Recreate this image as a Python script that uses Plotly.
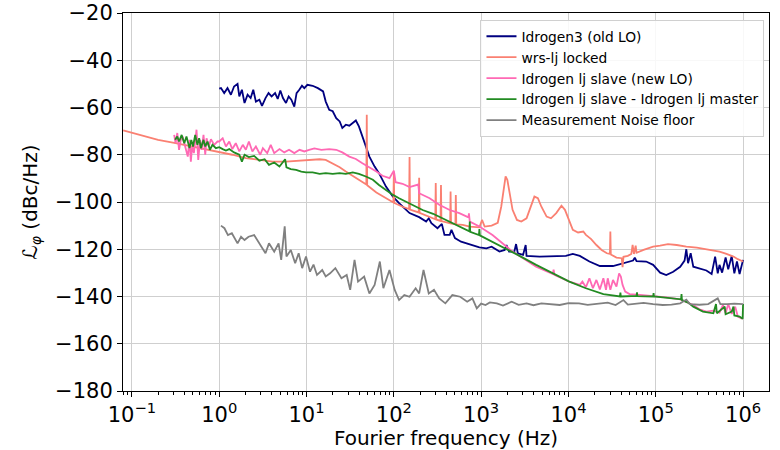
import plotly.graph_objects as go

# ---- data: (log10 frequency [Hz], phase noise [dBc/Hz]) ----
blue_pts = [
    (0.0, -52.0), (0.02, -51.8), (0.057, -53.9), (0.095, -51.8), (0.134, -54.6), (0.17, -51.1),
    (0.21, -50.0), (0.23, -55.3), (0.26, -52.5), (0.29, -58.1), (0.325, -54.6), (0.36, -56.0),
    (0.39, -52.5), (0.42, -57.5), (0.46, -56.7), (0.49, -59.3), (0.53, -56.0), (0.565, -53.9),
    (0.60, -55.3), (0.64, -53.9), (0.67, -56.4), (0.70, -52.8), (0.73, -56.0), (0.765, -58.1),
    (0.795, -55.3), (0.826, -56.7), (0.86, -59.6), (0.886, -53.9), (0.917, -52.5), (0.948, -50.8),
    (0.975, -51.8), (1.01, -50.4), (1.07, -50.8), (1.13, -51.8), (1.19, -53.2), (1.22, -57.5),
    (1.26, -61.0), (1.30, -61.6), (1.34, -64.5), (1.38, -65.9), (1.41, -68.7), (1.45, -67.3),
    (1.49, -67.7), (1.53, -66.3), (1.565, -65.5), (1.60, -68.0), (1.64, -72.3), (1.68, -77.2),
    (1.72, -80.8), (1.78, -85.0), (1.83, -87.8), (1.91, -93.5), (1.99, -97.7), (2.06, -100.5),
    (2.18, -104.7), (2.29, -106.4), (2.37, -108.3), (2.40, -106.9), (2.43, -109.0), (2.50, -111.1),
    (2.55, -109.3), (2.58, -113.9), (2.64, -113.9), (2.66, -111.8), (2.70, -115.3), (2.77, -116.8),
    (2.83, -117.5), (2.91, -118.2), (2.98, -119.2), (3.06, -119.6), (3.12, -118.9), (3.21, -121.0),
    (3.27, -120.3), (3.29, -118.2), (3.32, -121.0), (3.38, -121.0), (3.40, -117.8), (3.42, -121.7),
    (3.48, -122.4), (3.51, -118.2), (3.52, -122.8), (3.67, -123.1), (3.90, -123.1), (3.97, -122.8),
    (4.05, -122.0), (4.13, -122.8), (4.24, -125.2), (4.36, -127.1), (4.51, -127.1), (4.63, -125.9),
    (4.74, -124.8), (4.76, -123.6), (4.78, -125.0), (4.89, -125.2), (4.97, -126.6), (5.05, -129.9),
    (5.12, -130.9), (5.20, -129.5), (5.28, -127.4), (5.33, -124.8), (5.35, -120.0), (5.37, -125.9),
    (5.40, -121.7), (5.43, -127.4), (5.50, -128.0), (5.58, -129.0), (5.64, -130.5), (5.68, -123.1),
    (5.71, -130.2), (5.73, -126.6), (5.76, -129.9), (5.80, -123.5), (5.83, -128.5), (5.87, -122.8),
    (5.90, -130.2), (5.93, -125.2), (5.96, -130.5), (5.99, -125.9), (6.0, -124.5),
]

salmon_pts = [
    (-1.10, -69.7), (-0.92, -71.6), (-0.75, -73.1), (-0.72, -73.6), (-0.70, -73.7), (-0.50, -75.1),
    (-0.25, -77.0), (0.0, -78.6), (0.15, -80.0), (0.305, -81.4), (0.46, -82.2), (0.61, -82.9),
    (0.765, -82.9), (0.92, -82.5), (1.03, -82.2), (1.15, -81.9), (1.22, -82.2), (1.30, -83.6),
    (1.38, -85.3), (1.45, -87.1), (1.53, -88.9), (1.60, -90.6), (1.685, -92.6), (1.69, -63.1),
    (1.695, -92.9), (1.80, -96.0), (1.91, -98.4), (1.995, -100.2), (2.0, -87.8), (2.005, -100.4),
    (2.10, -102.0), (2.175, -103.0), (2.18, -81.0), (2.185, -103.2), (2.285, -104.4), (2.29, -89.7),
    (2.295, -104.6), (2.41, -106.5), (2.475, -107.3), (2.48, -92.0), (2.485, -107.4), (2.535, -108.0),
    (2.54, -92.8), (2.545, -108.1), (2.645, -109.0), (2.65, -95.6), (2.655, -109.1), (2.705, -109.4),
    (2.71, -97.0), (2.715, -109.5), (2.79, -109.7), (2.87, -110.4), (2.98, -110.7), (3.01, -107.6),
    (3.04, -110.4), (3.12, -110.0), (3.19, -108.8), (3.23, -102.0), (3.26, -92.8), (3.28, -89.2),
    (3.30, -90.6), (3.33, -96.3), (3.36, -103.3), (3.41, -107.6), (3.46, -108.3), (3.52, -106.9),
    (3.57, -102.0), (3.61, -97.7), (3.65, -98.4), (3.69, -102.0), (3.75, -106.2), (3.80, -106.9),
    (3.86, -104.7), (3.92, -101.6), (3.96, -103.3), (4.01, -108.3), (4.05, -111.8), (4.11, -112.9),
    (4.17, -112.5), (4.20, -113.9), (4.26, -115.7), (4.32, -118.2), (4.38, -120.3), (4.44, -121.7),
    (4.475, -122.0), (4.48, -112.5), (4.485, -122.2), (4.55, -123.5), (4.61, -123.8), (4.62, -127.6),
    (4.63, -123.2), (4.68, -122.8), (4.72, -122.0), (4.735, -118.2), (4.75, -122.0), (4.77, -118.5),
    (4.78, -121.5), (4.86, -120.3), (4.93, -119.2), (4.97, -118.9), (5.05, -118.5), (5.14, -117.8),
    (5.24, -118.2), (5.35, -118.9), (5.47, -119.3), (5.58, -120.0), (5.66, -120.6), (5.73, -121.0),
    (5.81, -122.0), (5.89, -123.1), (5.94, -124.2), (6.0, -125.2),
]

pink_pts = [
    (-0.516, -71.6), (-0.50, -75.1), (-0.48, -70.8), (-0.46, -77.9), (-0.44, -73.7), (-0.42, -72.3),
    (-0.39, -76.5), (-0.36, -80.8), (-0.34, -73.7), (-0.325, -82.9), (-0.31, -76.5), (-0.29, -79.3),
    (-0.26, -69.4), (-0.24, -82.2), (-0.22, -73.7), (-0.20, -77.9), (-0.18, -71.6), (-0.16, -80.0),
    (-0.145, -73.0), (-0.12, -76.5), (-0.095, -73.4), (-0.057, -75.8), (-0.02, -74.4), (0.0, -74.4),
    (0.04, -73.0), (0.077, -76.5), (0.115, -74.4), (0.15, -77.6), (0.19, -75.1), (0.23, -78.6),
    (0.27, -75.8), (0.305, -77.9), (0.34, -74.4), (0.38, -78.6), (0.42, -76.5), (0.47, -80.0),
    (0.50, -77.2), (0.55, -79.3), (0.59, -75.8), (0.63, -79.3), (0.69, -77.6), (0.745, -79.0),
    (0.80, -77.9), (0.86, -79.3), (0.92, -77.9), (0.975, -78.6), (1.03, -77.9), (1.09, -77.3),
    (1.17, -77.9), (1.26, -77.6), (1.34, -77.9), (1.41, -79.0), (1.49, -80.8), (1.565, -81.8),
    (1.64, -83.6), (1.72, -85.3), (1.80, -87.1), (1.87, -88.9), (1.95, -89.9), (2.0, -86.7),
    (2.02, -91.6), (2.10, -92.3), (2.18, -93.7), (2.28, -92.6), (2.29, -96.3), (2.41, -98.4),
    (2.52, -101.2), (2.64, -103.4), (2.75, -104.7), (2.855, -106.5), (2.86, -104.8), (2.87, -108.3),
    (2.98, -110.4), (3.13, -114.0), (3.25, -117.5), (3.36, -121.0), (3.48, -123.8), (3.63, -127.4),
    (3.82, -130.5), (3.83, -128.6), (3.84, -130.8), (4.01, -133.7), (4.13, -135.1), (4.16, -133.7),
    (4.20, -136.1), (4.24, -132.3), (4.28, -136.5), (4.32, -133.0), (4.36, -137.0), (4.40, -132.3),
    (4.43, -137.2), (4.45, -132.3), (4.48, -137.2), (4.51, -133.0), (4.55, -135.8), (4.58, -130.2),
    (4.60, -131.6), (4.62, -135.1), (4.65, -137.9), (4.70, -139.0), (4.82, -139.3), (4.97, -139.7),
    (5.12, -140.4), (5.28, -141.2), (5.35, -142.2), (5.43, -143.6), (5.50, -145.4), (5.58, -146.4),
    (5.66, -146.0), (5.73, -146.8), (5.77, -143.6), (5.80, -147.1), (5.83, -143.2), (5.87, -147.4),
    (5.91, -144.3), (5.94, -148.5), (5.98, -149.2), (6.0, -149.2),
]

green_pts = [
    (-0.505, -73.7), (-0.48, -72.3), (-0.46, -74.4), (-0.43, -71.6), (-0.40, -75.1), (-0.375, -72.3),
    (-0.34, -77.2), (-0.32, -73.7), (-0.30, -76.5), (-0.275, -71.6), (-0.25, -75.8), (-0.23, -73.0),
    (-0.21, -77.2), (-0.18, -73.7), (-0.16, -76.5), (-0.134, -74.4), (-0.107, -77.9), (-0.077, -75.8),
    (-0.038, -77.2), (0.0, -76.8), (0.04, -77.6), (0.077, -78.2), (0.115, -77.6), (0.17, -79.0),
    (0.23, -80.0), (0.26, -82.9), (0.29, -80.0), (0.34, -81.0), (0.40, -80.5), (0.46, -82.5),
    (0.52, -81.9), (0.57, -84.3), (0.63, -83.3), (0.69, -85.0), (0.755, -81.9), (0.77, -85.3),
    (0.82, -86.1), (0.88, -86.4), (0.94, -87.1), (0.994, -87.5), (1.07, -87.5), (1.15, -88.1),
    (1.22, -87.8), (1.30, -88.1), (1.38, -87.8), (1.45, -88.1), (1.53, -87.5), (1.60, -88.1),
    (1.68, -89.2), (1.76, -90.6), (1.83, -92.8), (1.91, -94.9), (1.99, -97.0), (2.06, -98.4),
    (2.14, -99.8), (2.22, -101.2), (2.33, -103.4), (2.45, -105.0), (2.56, -106.9), (2.68, -109.0),
    (2.865, -112.4), (2.87, -108.3), (2.875, -112.6), (2.975, -114.0), (2.98, -111.5), (2.985, -114.1),
    (3.13, -116.8), (3.29, -120.0), (3.44, -122.8), (3.63, -126.6), (3.82, -130.2), (4.01, -133.7),
    (4.20, -136.5), (4.40, -139.0), (4.59, -140.0), (4.595, -138.4), (4.60, -140.0), (4.78, -139.7),
    (4.785, -138.3), (4.79, -139.8), (4.97, -140.0), (4.975, -138.6), (4.98, -140.0), (5.16, -140.8),
    (5.29, -141.2), (5.295, -139.0), (5.30, -141.5), (5.37, -142.6), (5.43, -144.3), (5.54, -146.4),
    (5.66, -147.1), (5.69, -143.2), (5.70, -147.1), (5.79, -144.3), (5.80, -147.5), (5.87, -146.4),
    (5.89, -144.3), (5.90, -148.0), (5.96, -148.5), (5.995, -149.4), (6.0, -143.2),
]

gray_pts = [
    (0.02, -110.0), (0.06, -111.1), (0.10, -114.0), (0.145, -113.2), (0.21, -117.5), (0.25, -114.7),
    (0.29, -116.1), (0.336, -114.7), (0.40, -114.0), (0.46, -117.5), (0.53, -121.7), (0.57, -117.5),
    (0.63, -121.0), (0.68, -117.5), (0.71, -124.5), (0.75, -110.3), (0.77, -123.1), (0.82, -120.3),
    (0.87, -125.9), (0.91, -121.7), (0.95, -128.0), (0.994, -123.1), (1.04, -129.5), (1.08, -126.5),
    (1.12, -130.9), (1.18, -128.8), (1.22, -131.5), (1.27, -130.2), (1.33, -128.0), (1.40, -132.3),
    (1.46, -130.9), (1.50, -137.2), (1.55, -124.5), (1.59, -133.7), (1.66, -131.6), (1.72, -138.7),
    (1.78, -135.1), (1.84, -125.2), (1.88, -136.5), (1.95, -128.8), (2.01, -137.2), (2.06, -141.5),
    (2.12, -139.4), (2.18, -140.1), (2.25, -136.5), (2.29, -138.7), (2.34, -128.8), (2.40, -138.7),
    (2.46, -137.2), (2.52, -140.8), (2.59, -142.9), (2.67, -139.4), (2.76, -140.1), (2.84, -142.2),
    (2.90, -140.8), (2.95, -145.0), (3.00, -143.0), (3.05, -143.6), (3.10, -142.5), (3.18, -142.9),
    (3.25, -143.8), (3.35, -142.2), (3.43, -143.5), (3.52, -142.9), (3.60, -143.7), (3.69, -142.9),
    (3.80, -143.4), (3.90, -143.6), (4.00, -142.8), (4.12, -142.9), (4.22, -143.5), (4.33, -143.2),
    (4.45, -142.6), (4.54, -143.6), (4.63, -141.5), (4.68, -143.4), (4.75, -143.2), (4.86, -142.7),
    (4.97, -143.2), (5.08, -143.6), (5.18, -143.4), (5.28, -142.9), (5.35, -141.3), (5.39, -143.2),
    (5.50, -143.5), (5.60, -143.2), (5.71, -140.8), (5.74, -143.2), (5.82, -143.2), (5.90, -143.0),
    (6.00, -143.2),
]

series_names = [
    "Idrogen3 (old LO)",
    "wrs-lj locked",
    "Idrogen lj slave (new LO)",
    "Idrogen lj slave - Idrogen lj master",
    "Measurement Noise floor",
]
series_colors = ["#000080", "#fa8072", "#ff69b4", "#228b22", "#808080"]
series_data = [blue_pts, salmon_pts, pink_pts, green_pts, gray_pts]

x_tick_vals = [0.1, 1, 10, 100, 1e3, 1e4, 1e5, 1e6]
x_tick_text = ["10<sup>−1</sup>", "10<sup>0</sup>", "10<sup>1</sup>", "10<sup>2</sup>",
               "10<sup>3</sup>", "10<sup>4</sup>", "10<sup>5</sup>", "10<sup>6</sup>"]
x_minor_vals = [m * 10.0 ** e for e in range(-2, 7) for m in range(2, 10)]

fig = go.Figure()
for name, color, pts in zip(series_names, series_colors, series_data):
    fig.add_trace(go.Scatter(
        x=[10 ** p[0] for p in pts], y=[p[1] for p in pts],
        mode="lines", name=name, line=dict(color=color, width=1.8),
    ))

fig.update_layout(
    width=780, height=450,
    margin=dict(l=123, r=11, t=13, b=59),
    plot_bgcolor="white", paper_bgcolor="white",
    font=dict(family="DejaVu Sans", color="black"),
    legend=dict(x=0.993, xanchor="right", y=0.982, yanchor="top",
                bgcolor="rgba(255,255,255,0.85)", bordercolor="#d0d0d0", borderwidth=1,
                font=dict(size=13.8, family="DejaVu Sans"), itemwidth=30,
                tracegroupgap=0),
)
fig.update_xaxes(
    type="log", range=[-1.102, 6.297], automargin=False, ticklabeloverflow="allow",
    tickvals=x_tick_vals, ticktext=x_tick_text, tickfont=dict(size=21),
    ticks="outside", ticklen=5, tickcolor="black",
    showline=True, linecolor="black", linewidth=1, mirror=True,
    showgrid=True, gridcolor="#cfcfcf", gridwidth=1, zeroline=False,
    minor=dict(tickvals=x_minor_vals, ticks="outside", ticklen=3, tickcolor="black", showgrid=False),
    title=dict(text="Fourier frequency (Hz)", font=dict(size=20), standoff=2),
)
fig.update_yaxes(
    range=[-180, -20], dtick=20, tick0=-180, tickfont=dict(size=21),
    automargin=False, ticklabeloverflow="allow",
    ticks="outside", ticklen=5, tickcolor="black",
    showline=True, linecolor="black", linewidth=1, mirror=True,
    showgrid=True, gridcolor="#cfcfcf", gridwidth=1, zeroline=False,
    title=dict(text="<i>ℒ</i><sub><i>φ</i></sub> (dBc/Hz)", font=dict(size=20), standoff=12),
)

# remove the default 8px page margin so the figure fills the window exactly
fig.write_html("out.html", config={"displayModeBar": False},
               post_script="document.body.style.margin='0px';")
